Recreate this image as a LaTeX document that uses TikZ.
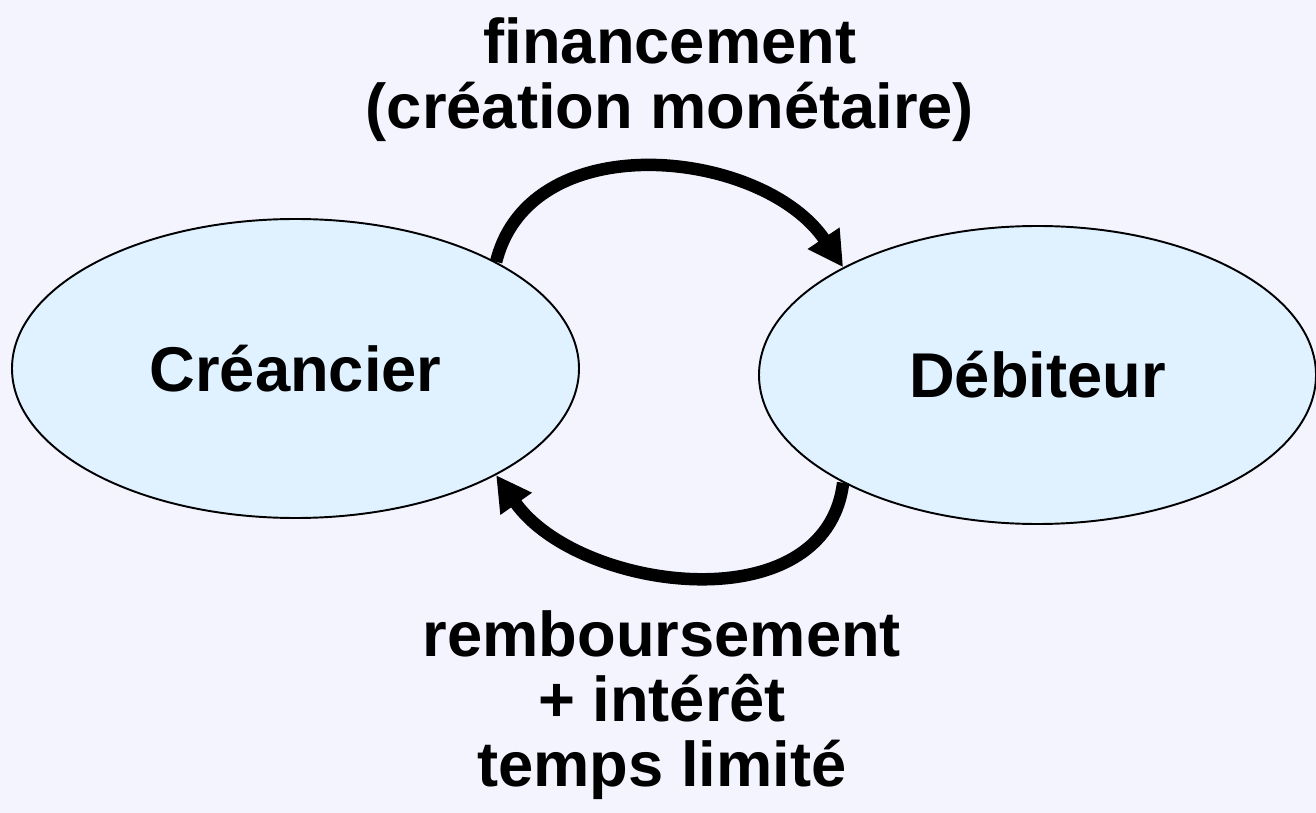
\documentclass[tikz,border=0pt]{standalone}
\usepackage{fontspec}
\setmainfont{Liberation Sans}
\usetikzlibrary{shapes,arrows.meta}
\definecolor{bgcol}{HTML}{F4F4FF}
\definecolor{fillcol}{HTML}{E0F2FF}
\begin{document}
\begin{tikzpicture}[
    text centered,
	party/.style={
	  ellipse,
	  line width=1.1pt,
	  draw=black,
	  fill=fillcol,
	  inner sep=0pt,
	  font=\fontsize{36}{40}\selectfont\bfseries
	},
	caption/.style={
	  align=center,
	  font=\fontsize{36}{37}\selectfont\bfseries
	},
 	flow/.style={draw, line width=0.25cm, -{Triangle[length=0.7cm,width=0.72cm]}}
	]
	\fill[bgcol] (0, 0) rectangle (26.32, -16.26);
	\useasboundingbox (0, 0) rectangle (26.32, -16.26);
	\node [party, minimum width=11.34cm, minimum height=5.98cm] at (5.91, -7.37) (creancier) {Créancier};
	\node [party, minimum width=11.14cm, minimum height=5.96cm] at (20.75, -7.5) (debiteur) {Débiteur};
	\node [caption] at (13.4, -1.6) (financement) {financement\\(création monétaire)};
	\node [caption] at (13.24, -14.1) (remboursement) {remboursement\\+ intérêt\\temps limité};
	\path[flow] (creancier.28) to[out=76, in=124, looseness=1.05] (debiteur.151);
	\path[flow] (debiteur.209) to[out=-97, in=-55, looseness=1.05] (creancier.-28);
  \end{tikzpicture}
\end{document}
